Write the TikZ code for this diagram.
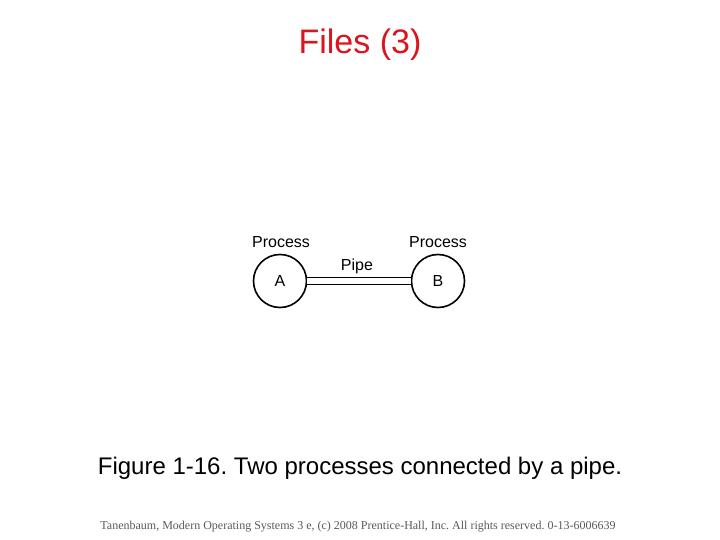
\documentclass[tikz,border=0pt]{standalone}
\usepackage{fontspec}
\setmainfont{Liberation Sans}
\newfontfamily\footfont{Liberation Serif}
\usetikzlibrary{positioning}
\definecolor{titlered}{RGB}{220,20,30}
\frenchspacing
\tikzset{proc/.style={circle,draw,line width=1.6pt,minimum size=53pt,inner sep=0pt,font=\fontsize{16}{18}\selectfont},
lab/.style={font=\fontsize{16}{18}\selectfont,inner sep=0pt}}
\begin{document}
\begin{tikzpicture}[x=1pt,y=-1pt]
\useasboundingbox (0,0) rectangle (720,540);
\node[text=titlered,font=\fontsize{34}{38}\selectfont] (title) at (360,45){Files (3)};
\node[proc] (pa) at (280,281){A};
\node[proc] (pb) at (438,281){B};
\node[lab] (procA) at (281,242){Process};
\node[lab] (procB) at (438,242){Process};
\node[lab] (pipe) at (357,266){Pipe};
\draw[double,double distance=6pt,line width=1.1pt] (pa)--(pb);
\node[font=\fontsize{24}{28}\selectfont] (cap) at (360,468){Figure 1-16. Two processes connected by a pipe.};
\node[font=\fontsize{12}{14}\footfont,text=black!65] (foot) at (358,527){Tanenbaum, Modern Operating Systems 3 e, (c) 2008 Prentice-Hall, Inc. All rights reserved. 0-13-6006639};
\end{tikzpicture}
\end{document}
